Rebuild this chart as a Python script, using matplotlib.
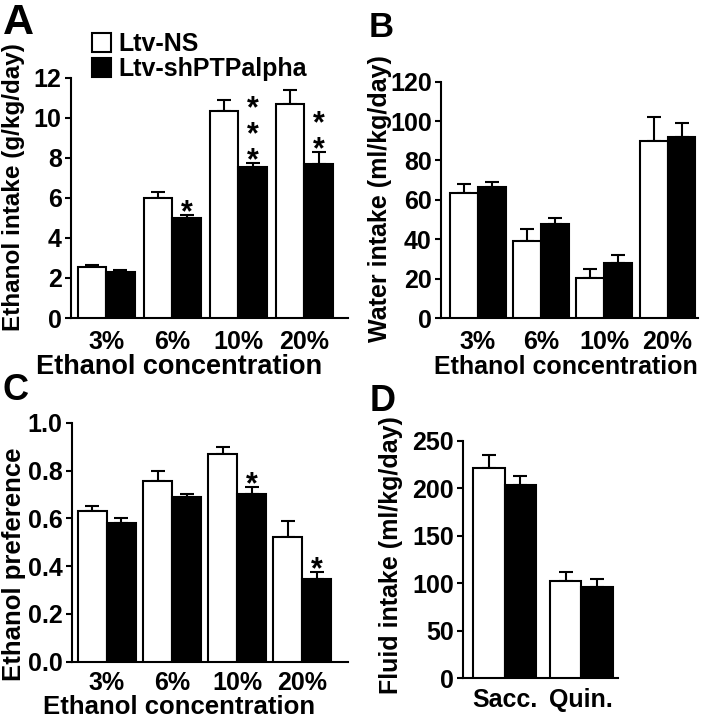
import matplotlib
matplotlib.use('Agg')
import matplotlib.pyplot as plt
import numpy as np
from matplotlib.patches import Patch

plt.rcParams['font.family'] = ['Liberation Sans', 'DejaVu Sans']
plt.rcParams['font.weight'] = 'bold'

# ---------------- data ----------------
concentrations = ['3%', '6%', '10%', '20%']
group_labels = ['Ltv-NS', 'Ltv-shPTPalpha']

intake_ns = [2.55, 5.98, 10.34, 10.67]
intake_ns_err = [0.08, 0.30, 0.55, 0.71]
intake_sh = [2.29, 4.99, 7.53, 7.69]
intake_sh_err = [0.09, 0.16, 0.20, 0.59]
intake_sig = ['', '*', '***', '**']

water_ns = [63.4, 39.2, 20.3, 89.9]
water_ns_err = [4.7, 5.9, 4.7, 12.0]
water_sh = [66.3, 47.7, 27.9, 92.1]
water_sh_err = [3.0, 3.0, 4.2, 6.8]

pref_ns = [0.630, 0.757, 0.869, 0.523]
pref_ns_err = [0.023, 0.041, 0.031, 0.066]
pref_sh = [0.582, 0.688, 0.702, 0.347]
pref_sh_err = [0.018, 0.012, 0.030, 0.030]
pref_sig = ['', '', '*', '*']

tastants = ['Sacc.', 'Quin.']
fluid_ns = [221.6, 102.7]
fluid_ns_err = [13.0, 9.5]
fluid_sh = [203.4, 96.1]
fluid_sh_err = [9.4, 8.0]

FS = 18
LW = 1.5

fig = plt.figure(figsize=(7.06, 7.2), dpi=100)


def panel(rect, cats, ns, ns_err, sh, sh_err, width, xlim, ylim, yticks,
          ylabel, ylab_xy, ylab_fs, xlabel=None, xlab_xy=None, xlab_fs=18,
          sig=None, yfmt=None, xpad=8.5):
    ax = fig.add_axes(rect)
    x = np.arange(len(cats))
    ax.bar(x - width / 2, ns, width, color='white', edgecolor='black',
           linewidth=LW, zorder=3)
    ax.bar(x + width / 2, sh, width, color='black', edgecolor='black',
           linewidth=LW, zorder=3)
    ax.errorbar(x - width / 2, ns, yerr=[np.zeros(len(ns)), ns_err],
                fmt='none', ecolor='black', elinewidth=LW, capsize=5.3,
                capthick=LW, zorder=2)
    ax.errorbar(x + width / 2, sh, yerr=[np.zeros(len(sh)), sh_err],
                fmt='none', ecolor='black', elinewidth=LW, capsize=5.3,
                capthick=LW, zorder=2)
    if sig is not None:
        for i, s in enumerate(sig):
            if not s:
                continue
            top = sh[i] + sh_err[i]
            ax.annotate('\n'.join(s), xy=(x[i] + width / 2, top),
                        xytext=(0, -4.5), textcoords='offset points',
                        ha='center', va='baseline', fontsize=22,
                        fontweight='bold', linespacing=0.82,
                        multialignment='center', annotation_clip=False)
    ax.set_xlim(*xlim)
    ax.set_ylim(*ylim)
    ax.set_yticks(yticks)
    if yfmt:
        ax.set_yticklabels([yfmt % v for v in yticks])
    ax.set_xticks(x)
    ax.set_xticklabels(cats)
    for sp in ['top', 'right']:
        ax.spines[sp].set_visible(False)
    for sp in ['left', 'bottom']:
        ax.spines[sp].set_linewidth(LW)
    ax.tick_params(axis='y', direction='out', length=4.5, width=LW, pad=2,
                   labelsize=FS)
    ax.tick_params(axis='x', length=0, pad=xpad, labelsize=FS)
    ax.set_ylabel(ylabel, fontsize=ylab_fs, fontweight='bold')
    ax.yaxis.set_label_coords(*ylab_xy)
    if xlabel:
        ax.set_xlabel(xlabel, fontsize=xlab_fs, fontweight='bold')
        ax.xaxis.set_label_coords(*xlab_xy)
    return ax


axA = panel([0.1001, 0.5583, 0.3928, 0.3338], concentrations,
            intake_ns, intake_ns_err, intake_sh, intake_sh_err,
            0.431, (-0.537, 3.658), (0, 12), [0, 2, 4, 6, 8, 10, 12],
            'Ethanol intake (g/kg/day)', (-0.165, 0.545), 17.5,
            'Ethanol concentration', (0.3906, -0.150), 19.5, sig=intake_sig)

axB = panel([0.6242, 0.5583, 0.3645, 0.3282], concentrations,
            water_ns, water_ns_err, water_sh, water_sh_err,
            0.443, (-0.590, 3.483), (0, 120), [0, 20, 40, 60, 80, 100, 120],
            'Water intake (ml/kg/day)', (-0.190, 0.504), 18,
            'Ethanol concentration', (0.487, -0.157), 18)

axC = panel([0.1013, 0.0810, 0.3916, 0.3319], concentrations,
            pref_ns, pref_ns_err, pref_sh, pref_sh_err,
            0.445, (-0.544, 3.698), (0, 1.0), [0.0, 0.2, 0.4, 0.6, 0.8, 1.0],
            'Ethanol preference', (-0.166, 0.409), 18.5,
            'Ethanol concentration', (0.389, -0.1389), 18.5, sig=pref_sig,
            yfmt='%.1f', xpad=6.5)

axD = panel([0.6562, 0.0579, 0.2191, 0.3300], tastants,
            fluid_ns, fluid_ns_err, fluid_sh, fluid_sh_err,
            0.409, (-0.540, 1.479), (0, 250), [0, 50, 100, 150, 200, 250],
            'Fluid intake (ml/kg/day)', (-0.388, 0.519), 18, xpad=7)

handles = [Patch(facecolor='white', edgecolor='black', linewidth=LW),
           Patch(facecolor='black', edgecolor='black', linewidth=LW)]
axA.legend(handles, group_labels, loc='upper left',
           bbox_to_anchor=(92 / 706, 1 - 32 / 720),
           bbox_transform=fig.transFigure, frameon=False,
           prop={'size': FS, 'weight': 'bold'}, borderpad=0,
           borderaxespad=0, handlelength=0.74, handleheight=0.78,
           handletextpad=0.3, labelspacing=0.05)

fig.text(3 / 706, 1 - 3 / 720, 'A', fontsize=31, fontweight='bold',
         ha='left', va='top')
fig.text(369 / 706, 1 - 11 / 720, 'B', fontsize=25, fontweight='bold',
         ha='left', va='top')
fig.text(3 / 706, 1 - 373 / 720, 'C', fontsize=26, fontweight='bold',
         ha='left', va='top')
fig.text(370 / 706, 1 - 384 / 720, 'D', fontsize=26, fontweight='bold',
         ha='left', va='top')

fig.savefig('out.png', dpi=100, facecolor='white')
